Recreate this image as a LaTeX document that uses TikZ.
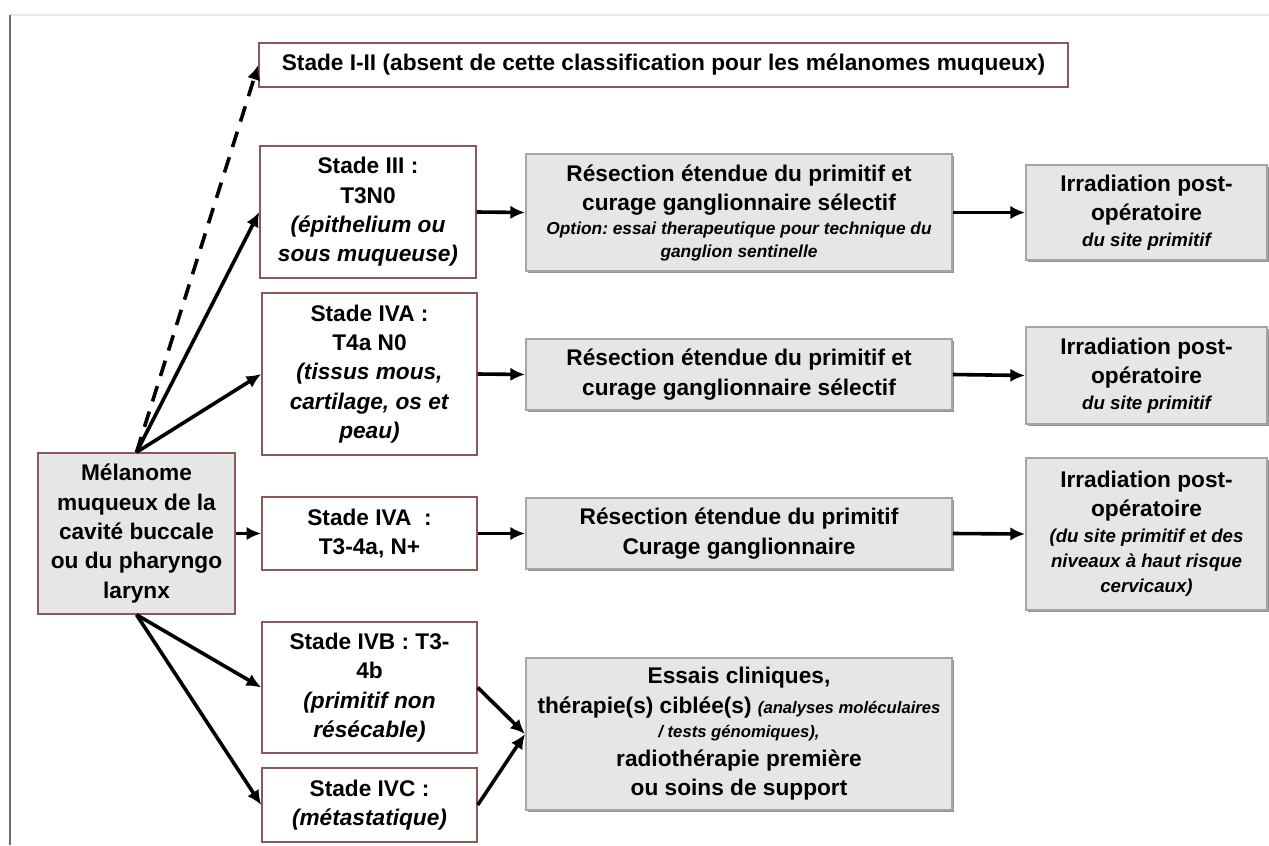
\documentclass[tikz,border=0pt]{standalone}
\usepackage{fontspec}
\setmainfont{Liberation Sans}
\usetikzlibrary{arrows.meta,shadows}

\begin{document}
\begin{tikzpicture}[x=0.75pt,y=0.75pt,yscale=-1,xscale=1,
    stade/.style={draw={rgb, 255:red, 140; green, 88; blue, 88}, line width=1.1pt, fill=white, align=center, inner sep=0pt, font=\bfseries\fontsize{17}{22}\selectfont},
    traitement/.style={draw={rgb, 255:red, 165; green, 165; blue, 165}, line width=1.4pt, fill={rgb, 255:red, 230; green, 230; blue, 230}, align=center, inner sep=0pt, font=\bfseries\fontsize{17}{22}\selectfont, drop shadow={shadow xshift=1.2pt, shadow yshift=-1.2pt, fill={rgb, 255:red, 120; green, 120; blue, 120}, opacity=0.8}},
    fleche/.style={line width=2.7pt, -{Latex[length=11pt,width=10pt]}}]
%uncomment if require: \path (0,845); %set diagram left start at 0, and has height of 845
\useasboundingbox (0,0) rectangle (1269,845);

%Straight Lines
\draw [color={rgb, 255:red, 232; green, 232; blue, 232 }, line width=0.8pt] (10,15) -- (1269,15) ;
%Straight Lines
\draw [color={rgb, 255:red, 110; green, 110; blue, 110 }, line width=2pt] (10,15) -- (10,845) ;

% Text Node
\draw (663.5,65) node [stade, minimum width=606.75pt, minimum height=33pt] (s12) {Stade I-II (absent de cette classification pour les mélanomes muqueux)};
% Text Node
\draw (368,212) node [stade, minimum width=162pt, minimum height=99pt] (s3) {Stade III :\\T3N0\\\textit{(épithelium ou}\\\textit{sous muqueuse)}};
% Text Node
\draw (369.5,374) node [stade, minimum width=161.25pt, minimum height=121.5pt] (s4a) {Stade IVA :\\T4a N0\\\textit{(tissus mous,}\\\textit{cartilage, os et}\\\textit{peau)}};
% Text Node
\draw (136.5,533.5) node [stade, fill={rgb, 255:red, 230; green, 230; blue, 230}, minimum width=147.75pt, minimum height=120.75pt] (mel) {Mélanome\\muqueux de la\\cavité buccale\\ou du pharyngo\\larynx};
% Text Node
\draw (369.5,533.5) node [stade, minimum width=161.25pt, minimum height=54.75pt] (s4t) {Stade IVA~ :\\T3-4a, N+};
% Text Node
\draw (369.5,687.5) node [stade, minimum width=161.25pt, minimum height=98.25pt] (s4b) {Stade IVB : T3-\\4b\\\textit{(primitif non}\\\textit{résécable)}};
% Text Node
\draw (369.5,805) node [stade, minimum width=161.25pt, minimum height=55.5pt] (s4c) {Stade IVC :\\\textit{(métastatique)}};

% Text Node
\draw (739,212.5) node [traitement, minimum width=319.5pt, minimum height=87.75pt] (r1) {Résection étendue du primitif et\\curage ganglionnaire sélectif\\[-4pt]{\fontsize{13}{16}\selectfont\itshape Option:\ essai therapeutique pour technique du}\\[-5pt]{\fontsize{13}{16}\selectfont\itshape ganglion sentinelle}};
% Text Node
\draw (739,374.5) node [traitement, minimum width=319.5pt, minimum height=53.25pt] (r2) {Résection étendue du primitif et\\curage ganglionnaire sélectif};
% Text Node
\draw (739,533.5) node [traitement, minimum width=319.5pt, minimum height=53.25pt] (r3) {Résection étendue du primitif\\Curage ganglionnaire};
% Text Node
\draw (739,734) node [traitement, minimum width=319.5pt, minimum height=114pt] (ess) {Essais cliniques,\\thérapie(s) ciblée(s) {\fontsize{12.5}{16}\selectfont\itshape (analyses moléculaires}\\[-4pt]{\fontsize{12.5}{16}\selectfont\itshape / tests génomiques),}\\radiothérapie première\\ou soins de support};

% Text Node
\draw (1146.5,212.5) node [traitement, minimum width=180.75pt, minimum height=71.25pt] (i1) {Irradiation post-\\opératoire\\[-3pt]{\fontsize{14}{18}\selectfont\itshape du site primitif}};
% Text Node
\draw (1146.5,375.5) node [traitement, minimum width=180.75pt, minimum height=72.75pt] (i2) {Irradiation post-\\opératoire\\[-3pt]{\fontsize{14}{18}\selectfont\itshape du site primitif}};
% Text Node
\draw (1146.5,534) node [traitement, minimum width=180.75pt, minimum height=114pt] (i3) {Irradiation post-\\opératoire\\[-3pt]{\fontsize{14}{18}\selectfont\itshape (du site primitif et des}\\[-3pt]{\fontsize{14}{18}\selectfont\itshape niveaux à haut risque}\\[-3pt]{\fontsize{14}{18}\selectfont\itshape cervicaux)}};

%Straight Lines
\draw [fleche, dash pattern={on 12pt off 8pt}] (mel.north) -- (s12.west) ;
%Straight Lines
\draw [fleche] (mel.north) -- (s3.west) ;
%Straight Lines
\draw [fleche] (mel.north) -- (s4a.west) ;
%Straight Lines
\draw [fleche] (mel.east) -- (s4t.west) ;
%Straight Lines
\draw [fleche] (mel.south) -- (s4b.west) ;
%Straight Lines
\draw [fleche] (mel.south) -- (s4c.west) ;

%Straight Lines
\draw [fleche] (s3.east) -- (r1.west) ;
\draw [fleche] (s4a.east) -- (r2.west) ;
\draw [fleche] (s4t.east) -- (r3.west) ;
\draw [fleche] (s4b.east) -- (ess.west) ;
\draw [fleche] (s4c.east) -- (ess.west) ;
%Straight Lines
\draw [fleche] (r1.east) -- (i1.west) ;
\draw [fleche] (r2.east) -- (i2.west) ;
\draw [fleche] (r3.east) -- (i3.west) ;

\end{tikzpicture}
\end{document}
